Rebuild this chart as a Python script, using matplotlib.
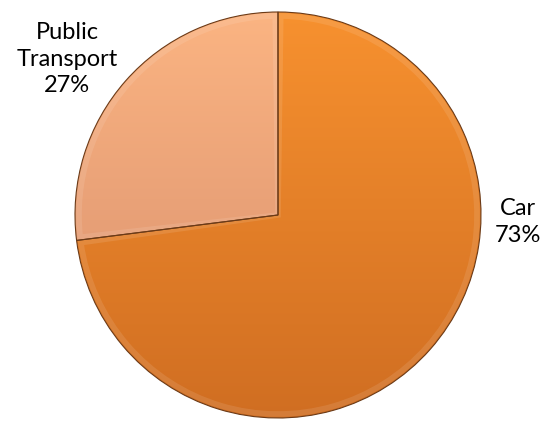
import numpy as np
import matplotlib
matplotlib.use("Agg")
import matplotlib.pyplot as plt
from matplotlib.colors import LinearSegmentedColormap
from matplotlib.patches import Wedge

labels = ["Car", "Public\nTransport"]
shares = [73, 27]
top_colors = ["#F7912F", "#FBB482"]
bottom_colors = ["#D06E22", "#D68D6C"]

W, H = 543, 421
fig = plt.figure(figsize=(W / 100, H / 100), dpi=100)
ax = fig.add_axes([0, 0, 1, 1])

cx, cy, r = 278, 206, 203

wedges, _ = ax.pie(shares, startangle=90, counterclock=False,
                   center=(cx, cy), radius=r, frame=True,
                   colors=bottom_colors,
                   wedgeprops=dict(edgecolor="#6B3A17", linewidth=0.8))

# vertical light-to-dark shading inside each slice
grad = np.linspace(0, 1, 256).reshape(-1, 1)
for w, c_top, c_bot in zip(wedges, top_colors, bottom_colors):
    cmap = LinearSegmentedColormap.from_list("shade", [c_top, c_bot])
    im = ax.imshow(grad, cmap=cmap, aspect="auto", origin="upper",
                   extent=(cx - r, cx + r, cy - r, cy + r), zorder=1.5,
                   interpolation="bilinear")
    im.set_clip_path(w)
    w.set_zorder(2)
    w.set_facecolor("none")
    # soft bevel highlight along the slice border
    hl = Wedge(w.center, w.r - 4, w.theta1 + 0.8, w.theta2 - 0.8,
               facecolor="none", edgecolor="white",
               linewidth=4, alpha=0.10, zorder=1.8)
    ax.add_patch(hl)
    hl.set_clip_path(w)

label_font = dict(ha="center", va="center", fontsize=17, family="Lato",
                  linespacing=1.3, color="black")
ax.text(518, H - 222, f"{labels[0]}\n{shares[0]}%", **label_font)
ax.text(67, H - 59, f"{labels[1]}\n{shares[1]}%", **label_font)

ax.set_xlim(0, W)
ax.set_ylim(0, H)
ax.set_aspect("equal")
ax.axis("off")

fig.savefig("out.png", dpi=100, facecolor="white")
